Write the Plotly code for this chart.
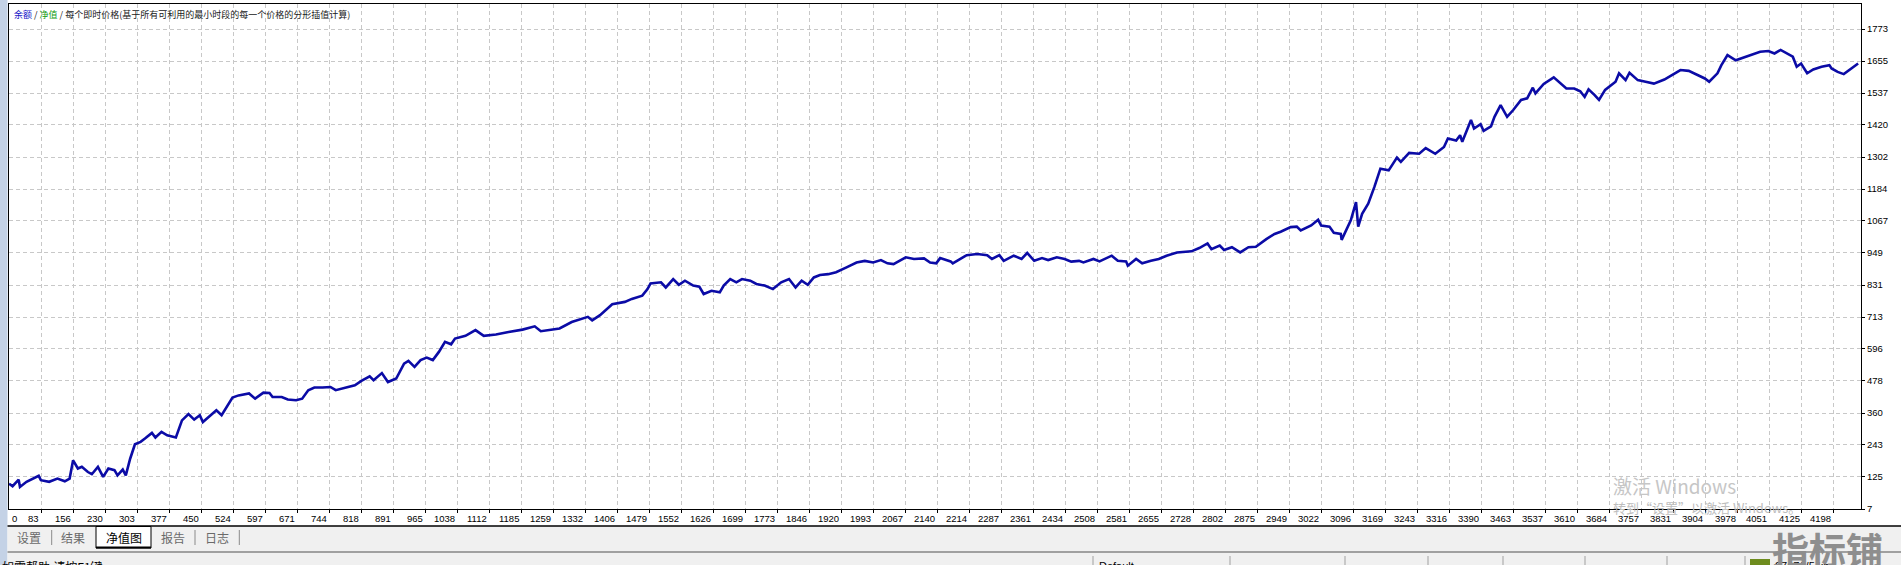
import plotly.graph_objects as go

# ---------------- data ----------------
x_labels = ["0", "83", "156", "230", "303", "377", "450", "524", "597", "671", "744", "818", "891",
            "965", "1038", "1112", "1185", "1259", "1332", "1406", "1479", "1552", "1626", "1699",
            "1773", "1846", "1920", "1993", "2067", "2140", "2214", "2287", "2361", "2434", "2508",
            "2581", "2655", "2728", "2802", "2875", "2949", "3022", "3096", "3169", "3243", "3316",
            "3390", "3463", "3537", "3610", "3684", "3757", "3831", "3904", "3978", "4051", "4125",
            "4198"]
y_labels = ["7", "125", "243", "360", "478", "596", "713", "831", "949", "1067", "1184", "1302",
            "1420", "1537", "1655", "1773"]

trades = [9, 17, 31, 34, 49, 77, 82, 101, 120, 137, 148, 156, 167, 176, 190, 199, 213, 225, 237,
          251, 258, 270, 277, 281, 287, 298, 311, 321, 337, 345, 359, 372, 392, 406, 421, 434, 447,
          454, 471, 485, 497, 522, 536, 560, 574, 593, 607, 614, 635, 649, 668, 682, 696, 710, 729,
          747, 759, 785, 803, 818, 837, 846, 865, 879, 898, 916, 926, 940, 954, 968, 982, 996, 1010,
          1024, 1033, 1057, 1080, 1099, 1127, 1156, 1188, 1216, 1230, 1273, 1301, 1338, 1348, 1366,
          1394, 1423, 1439, 1463, 1475, 1482, 1506, 1517, 1534, 1547, 1561, 1580, 1594, 1604, 1622,
          1641, 1650, 1665, 1679, 1692, 1711, 1725, 1744, 1763, 1782, 1800, 1815, 1829, 1843, 1857,
          1871, 1890, 1908, 1932, 1955, 1974, 1993, 2011, 2026, 2040, 2054, 2068, 2087, 2110, 2124,
          2138, 2147, 2171, 2176, 2190, 2208, 2232, 2255, 2266, 2283, 2293, 2316, 2334, 2347, 2363,
          2381, 2395, 2415, 2433, 2448, 2466, 2476, 2499, 2513, 2541, 2555, 2574, 2578, 2597, 2611,
          2631, 2649, 2667, 2691, 2724, 2742, 2761, 2770, 2789, 2799, 2817, 2836, 2855, 2872, 2896,
          2915, 2929, 2952, 2966, 2975, 2999, 3015, 3022, 3041, 3051, 3067, 3069, 3080, 3090, 3102,
          3107, 3116, 3130, 3144, 3158, 3177, 3196, 3205, 3224, 3247, 3262, 3284, 3304, 3313, 3332,
          3341, 3346, 3366, 3373, 3388, 3395, 3412, 3420, 3434, 3449, 3463, 3481, 3495, 3508, 3514,
          3533, 3556, 3575, 3585, 3603, 3617, 3627, 3636, 3650, 3660, 3674, 3698, 3706, 3721, 3730,
          3749, 3767, 3786, 3810, 3828, 3847, 3866, 3885, 3903, 3913, 3932, 3941, 3955, 3974, 3997,
          4016, 4030, 4049, 4063, 4077, 4096, 4105, 4114, 4124, 4138, 4152, 4171, 4189, 4194, 4208,
          4222, 4236, 4255]
balance = [100, 91, 115, 88, 107, 129, 113, 107, 119, 109, 119, 186, 156, 162, 143, 135, 162, 125,
           156, 150, 131, 152, 131, 156, 192, 245, 254, 266, 287, 270, 291, 278, 270, 333, 356, 336,
           352, 327, 352, 370, 352, 417, 425, 432, 413, 435, 434, 419, 419, 410, 407, 413, 444, 454,
           454, 456, 444, 454, 462, 478, 495, 481, 507, 474, 487, 542, 552, 530, 555, 564, 555, 585,
           622, 613, 634, 644, 665, 644, 649, 658, 667, 679, 661, 671, 695, 714, 701, 720, 760, 769,
           780, 792, 816, 837, 841, 822, 853, 832, 847, 829, 825, 798, 810, 804, 829, 853, 841, 853,
           847, 835, 829, 816, 841, 853, 822, 847, 832, 859, 868, 871, 878, 896, 914, 920, 914, 923,
           911, 908, 920, 933, 927, 929, 914, 911, 930, 918, 911, 923, 941, 945, 941, 927, 941, 920,
           939, 927, 949, 920, 930, 923, 933, 927, 917, 920, 914, 927, 918, 939, 920, 918, 902, 927,
           911, 920, 927, 939, 951, 955, 967, 984, 963, 976, 960, 970, 951, 970, 972, 1000, 1019,
           1027, 1044, 1046, 1032, 1050, 1071, 1050, 1046, 1023, 1019, 997, 1032, 1069, 1136, 1046,
           1093, 1130, 1191, 1259, 1253, 1300, 1284, 1317, 1314, 1335, 1314, 1339, 1370, 1363, 1382,
           1358, 1438, 1407, 1423, 1398, 1415, 1450, 1493, 1450, 1475, 1512, 1518, 1557, 1536, 1571,
           1595, 1567, 1554, 1554, 1544, 1523, 1551, 1530, 1512, 1549, 1579, 1610, 1585, 1612, 1585,
           1579, 1572, 1587, 1603, 1622, 1619, 1603, 1591, 1579, 1610, 1640, 1677, 1658, 1671, 1683,
           1689, 1692, 1683, 1696, 1681, 1671, 1634, 1646, 1610, 1624, 1634, 1640, 1628, 1615, 1607,
           1624, 1646]

title_balance = "余额"
title_equity = "净值"
title_rest = "每个即时价格(基于所有可利用的最小时段的每一个价格的分形插值计算)"
tab_names = ["设置", "结果", "净值图", "报告", "日志"]

# ---------------- geometry helpers (pixel -> paper) ----------------
W, H = 1901, 565
L, R, T, B = 9, 1861, 4, 509


def px(xp):
    return (xp - L) / (R - L)


def py(yp):
    return (B - yp) / (B - T)


x_range = [8.8, 4261.6]
y_range = [7, 7 + (B - T) / 32 * 117.733]

FONT_NUM = "Liberation Sans, Arial, sans-serif"
FONT_CJK = "Noto Sans CJK SC, sans-serif"

fig = go.Figure()
fig.add_trace(go.Scatter(x=trades, y=balance, mode="lines",
                         line=dict(color="#0b0ba6", width=2.6), hoverinfo="skip",
                         showlegend=False))

xtick_vals = [float(v) for v in x_labels[1:]]
ytick_vals = [float(v) for v in y_labels]

fig.update_layout(
    width=W, height=H,
    margin=dict(l=L, r=W - R, t=T, b=H - B, pad=0),
    paper_bgcolor="white", plot_bgcolor="white",
    xaxis=dict(range=x_range, tickvals=xtick_vals, showticklabels=False,
               ticks="outside", ticklen=3, tickcolor="black",
               showgrid=True, gridcolor="#c8c8c8", griddash="4px,3px", gridwidth=1,
               showline=True, linecolor="black", linewidth=1, mirror=True, zeroline=False,
               fixedrange=True),
    yaxis=dict(range=y_range, tickvals=ytick_vals, ticktext=y_labels, side="right",
               ticks="outside", ticklen=3, tickcolor="black",
               tickfont=dict(family=FONT_NUM, size=9.5, color="black"),
               showgrid=True, gridcolor="#c8c8c8", griddash="4px,3px", gridwidth=1,
               showline=True, linecolor="black", linewidth=1, mirror=True, zeroline=False,
               fixedrange=True),
)

ann = []
# x tick labels (right-aligned to their tick like the original terminal)
for i, lab in enumerate(x_labels):
    if i == 0:
        ann.append(dict(x=x_range[0], xref="x", y=0, yref="paper", text=lab, showarrow=False,
                        xanchor="left", yanchor="top", xshift=1, yshift=-2,
                        font=dict(family=FONT_NUM, size=9.5, color="black")))
    else:
        ann.append(dict(x=float(lab), xref="x", y=0, yref="paper", text=lab, showarrow=False,
                        xanchor="right", yanchor="top", xshift=0, yshift=-2,
                        font=dict(family=FONT_NUM, size=9.5, color="black")))

# header text
ann.append(dict(x=px(12), y=py(14), xref="paper", yref="paper", showarrow=False,
                xanchor="left", yanchor="middle",
                text=f'<span style="color:#1515c8">{title_balance}</span> / '
                     f'<span style="color:#109a10">{title_equity}</span> / {title_rest}',
                font=dict(family=FONT_CJK, size=9, color="#202020")))

shapes = []
# left blue strip
shapes.append(dict(type="rect", xref="paper", yref="paper", x0=px(0), x1=px(7.5), y0=py(H), y1=py(0),
                   fillcolor="#c4d2e6", line=dict(width=0), layer="below"))
# bottom panel
shapes.append(dict(type="rect", xref="paper", yref="paper", x0=px(7.5), x1=px(W), y0=py(H + 2), y1=py(526),
                   fillcolor="#f0f0f0", line=dict(width=0)))
shapes.append(dict(type="line", xref="paper", yref="paper", x0=px(7.5), x1=px(W), y0=py(526), y1=py(526),
                   line=dict(color="black", width=1.5)))
# selected tab
shapes.append(dict(type="rect", xref="paper", yref="paper", x0=px(96), x1=px(151), y0=py(548), y1=py(526.5),
                   fillcolor="white", line=dict(color="black", width=1)))
shapes.append(dict(type="line", xref="paper", yref="paper", x0=px(96), x1=px(151), y0=py(547.5), y1=py(547.5),
                   line=dict(color="black", width=2)))
# tab separators
for sx in [51.7, 195, 239.3]:
    shapes.append(dict(type="line", xref="paper", yref="paper", x0=px(sx), x1=px(sx), y0=py(530), y1=py(545),
                       line=dict(color="#8a8a8a", width=1)))
# status bar separator
shapes.append(dict(type="line", xref="paper", yref="paper", x0=px(7.5), x1=px(W), y0=py(552), y1=py(552),
                   line=dict(color="#a0a0a0", width=2)))
for sx in [1093, 1230, 1345, 1428, 1503, 1585, 1667, 1745]:
    shapes.append(dict(type="line", xref="paper", yref="paper", x0=px(sx), x1=px(sx), y0=py(H), y1=py(556),
                       line=dict(color="#a0a0a0", width=1)))
# status bar icon
shapes.append(dict(type="rect", xref="paper", yref="paper", x0=px(1750), x1=px(1770), y0=py(H), y1=py(559),
                   fillcolor="#6e8c1e", line=dict(width=0)))

# tab labels
tab_x = [29, 73, 123.5, 172.5, 217]
for name, tx in zip(tab_names, tab_x):
    ann.append(dict(x=px(tx), y=py(537), xref="paper", yref="paper", text=name, showarrow=False,
                    xanchor="center", yanchor="middle",
                    font=dict(family=FONT_CJK, size=12, color="black" if name == "净值图" else "#6a6a6a")))

# status bar texts (clipped by window bottom)
ann.append(dict(x=px(0), y=py(566), xref="paper", yref="paper", text="如需帮助,请按F1键", showarrow=False,
                xanchor="left", yanchor="middle", font=dict(family=FONT_CJK, size=12, color="black")))
ann.append(dict(x=px(1097), y=py(566), xref="paper", yref="paper", text="Default", showarrow=False,
                xanchor="left", yanchor="middle", font=dict(family=FONT_NUM, size=11, color="black")))
ann.append(dict(x=px(1773), y=py(566), xref="paper", yref="paper", text="27676/5 kb", showarrow=False,
                xanchor="left", yanchor="middle", font=dict(family=FONT_NUM, size=11, color="black")))

# Windows activation watermark
ann.append(dict(x=px(1611), y=py(485), xref="paper", yref="paper", text="激活 Windows", showarrow=False,
                xanchor="left", yanchor="middle", font=dict(family=FONT_CJK, size=19, color="#c6c6c6")))
ann.append(dict(x=px(1611), y=py(507), xref="paper", yref="paper", text="转到“设置”以激活 Windows。",
                showarrow=False, xanchor="left", yanchor="middle",
                font=dict(family=FONT_CJK, size=13, color="#bdbdbd")))
# site logo
ann.append(dict(x=px(1827), y=py(549), xref="paper", yref="paper", text="<b>指标铺</b>", showarrow=False,
                xanchor="center", yanchor="middle", font=dict(family=FONT_CJK, size=37, color="#8e8e8e")))

fig.update_layout(annotations=ann, shapes=shapes)

fig.write_html("out.html", config={"displayModeBar": False, "staticPlot": True},
               post_script="document.body.style.margin='0';document.body.style.overflow='hidden';")
